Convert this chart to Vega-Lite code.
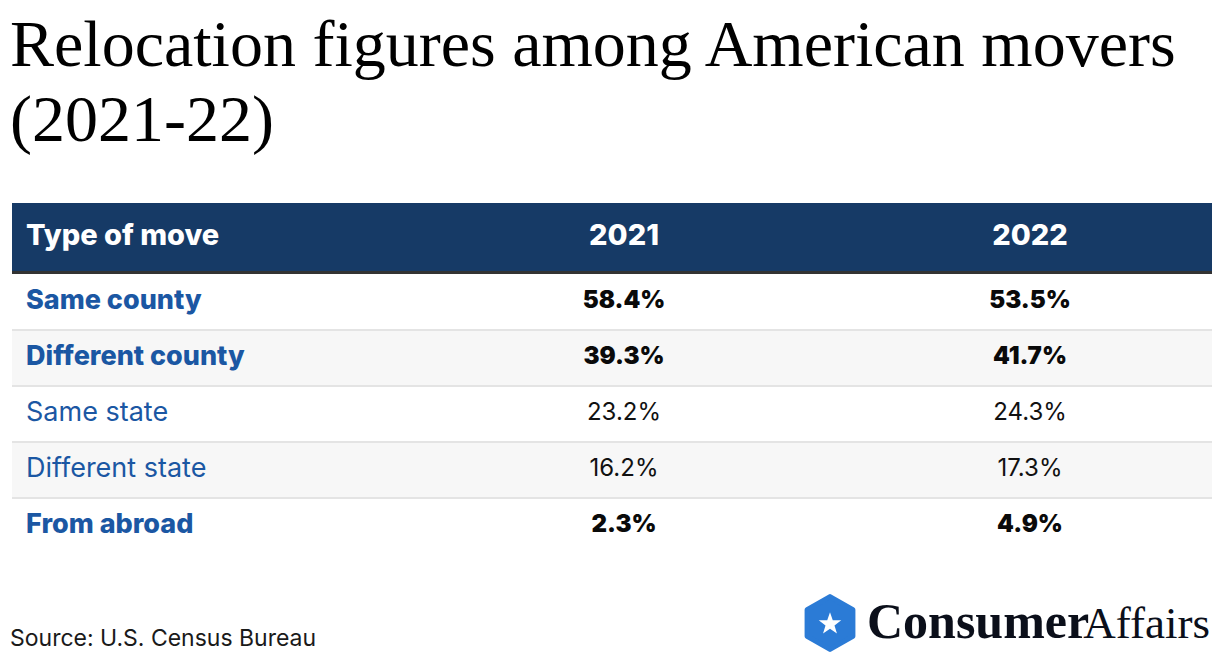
{
  "$schema": "https://vega.github.io/schema/vega-lite/v6.json",
  "padding": {"left": 10, "right": 10, "top": 13, "bottom": 0},
  "background": "#ffffff",
  "config": {"view": {"stroke": null}, "axis": {"disable": true}},
  "title": {
    "text": ["Relocation figures among American movers", "(2021-22)"],
    "font": "Liberation Serif",
    "fontSize": 66,
    "fontWeight": "normal",
    "lineHeight": 75,
    "anchor": "start",
    "color": "#000000",
    "offset": 48
  },
  "spacing": 0,
  "vconcat": [
    {
      "width": 1200,
      "height": 68,
      "data": {"values": [{"col": "Type of move"}, {"col": "2021"}, {"col": "2022"}]},
      "layer": [
        {
          "mark": {"type": "rect", "color": "#163A66"},
          "encoding": {
            "x": {"value": 0}, "x2": {"value": "width"},
            "y": {"value": 0}, "y2": {"value": "height"}
          }
        },
        {
          "transform": [{"filter": "datum.col == 'Type of move'"}],
          "mark": {"type": "text", "align": "left", "baseline": "middle", "dx": 11, "font": "Inter", "fontSize": 29, "fontWeight": 800, "color": "#ffffff"},
          "encoding": {
            "x": {"field": "col", "type": "nominal", "bandPosition": 0, "scale": {"type": "band", "domain": ["Type of move", "2021", "2022"], "range": [3, 1221], "paddingInner": 0, "paddingOuter": 0}, "axis": null},
            "y": {"value": 33},
            "text": {"field": "col"}
          }
        },
        {
          "transform": [{"filter": "datum.col != 'Type of move'"}],
          "mark": {"type": "text", "align": "center", "baseline": "middle", "font": "Inter", "fontSize": 29, "fontWeight": 800, "color": "#ffffff"},
          "encoding": {
            "x": {"field": "col", "type": "nominal", "scale": {"type": "band", "domain": ["Type of move", "2021", "2022"], "range": [3, 1221], "paddingInner": 0, "paddingOuter": 0}, "axis": null},
            "y": {"value": 33},
            "text": {"field": "col"}
          }
        }
      ]
    },
    {
      "width": 1200,
      "height": 283,
      "data": {"values": [
        {"type": "Same county", "level": "main", "2021": 0.584, "2022": 0.535},
        {"type": "Different county", "level": "main", "2021": 0.393, "2022": 0.417},
        {"type": "Same state", "level": "sub", "2021": 0.232, "2022": 0.243},
        {"type": "Different state", "level": "sub", "2021": 0.162, "2022": 0.173},
        {"type": "From abroad", "level": "main", "2021": 0.023, "2022": 0.049}
      ]},
      "transform": [{"window": [{"op": "row_number", "as": "rn"}]}],
      "encoding": {
        "y": {"field": "type", "type": "nominal", "scale": {"type": "band", "domain": ["Same county", "Different county", "Same state", "Different state", "From abroad"], "range": [3, 283], "paddingInner": 0, "paddingOuter": 0}, "axis": null}
      },
      "layer": [
        {
          "mark": {"type": "rect"},
          "encoding": {
            "x": {"value": 0}, "x2": {"value": "width"},
            "color": {"condition": {"test": "datum.rn % 2 == 0", "value": "#F7F7F7"}, "value": "#FFFFFF"}
          }
        },
        {
          "transform": [{"filter": "datum.rn > 1"}],
          "mark": {"type": "rule", "color": "#E4E4E4", "strokeWidth": 2},
          "encoding": {
            "y": {"field": "type", "type": "nominal", "bandPosition": 0},
            "x": {"value": 0}, "x2": {"value": "width"}
          }
        },
        {
          "transform": [{"filter": "datum.rn == 1"}],
          "mark": {"type": "rule", "color": "#333333", "strokeWidth": 3, "yOffset": -1.5},
          "encoding": {
            "y": {"field": "type", "type": "nominal", "bandPosition": 0},
            "x": {"value": 0}, "x2": {"value": "width"}
          }
        },
        {
          "transform": [{"filter": "datum.level == 'main'"}],
          "mark": {"type": "text", "align": "left", "baseline": "middle", "dx": 11, "dy": -1, "font": "Inter", "fontSize": 27, "fontWeight": 800, "color": "#1B57A3"},
          "encoding": {
            "x": {"datum": "Type of move", "type": "nominal", "bandPosition": 0, "scale": {"type": "band", "domain": ["Type of move", "2021", "2022"], "range": [3, 1221], "paddingInner": 0, "paddingOuter": 0}, "axis": null},
            "text": {"field": "type"}
          }
        },
        {
          "transform": [{"filter": "datum.level == 'sub'"}],
          "mark": {"type": "text", "align": "left", "baseline": "middle", "dx": 11, "dy": -1, "font": "Inter", "fontSize": 27, "fontWeight": 400, "color": "#1B57A3"},
          "encoding": {
            "x": {"datum": "Type of move", "type": "nominal", "bandPosition": 0, "scale": {"type": "band", "domain": ["Type of move", "2021", "2022"], "range": [3, 1221], "paddingInner": 0, "paddingOuter": 0}, "axis": null},
            "text": {"field": "type"}
          }
        },
        {
          "transform": [{"filter": "datum.level == 'main'"}, {"fold": ["2021", "2022"], "as": ["year", "share"]}],
          "mark": {"type": "text", "align": "center", "baseline": "middle", "dy": -1, "font": "Inter", "fontSize": 24, "fontWeight": 900, "color": "#0A0A0A"},
          "encoding": {
            "x": {"field": "year", "type": "nominal", "scale": {"type": "band", "domain": ["Type of move", "2021", "2022"], "range": [3, 1221], "paddingInner": 0, "paddingOuter": 0}, "axis": null},
            "text": {"field": "share", "type": "quantitative", "format": ".1%"}
          }
        },
        {
          "transform": [{"filter": "datum.level == 'sub'"}, {"fold": ["2021", "2022"], "as": ["year", "share"]}],
          "mark": {"type": "text", "align": "center", "baseline": "middle", "dy": -1, "font": "Inter", "fontSize": 24, "fontWeight": 400, "color": "#111111"},
          "encoding": {
            "x": {"field": "year", "type": "nominal", "scale": {"type": "band", "domain": ["Type of move", "2021", "2022"], "range": [3, 1221], "paddingInner": 0, "paddingOuter": 0}, "axis": null},
            "text": {"field": "share", "type": "quantitative", "format": ".1%"}
          }
        }
      ]
    },
    {
      "width": 1200,
      "height": 109,
      "data": {"values": [{"source": "Source: U.S. Census Bureau", "brand1": "Consumer", "brand2": "Affairs"}]},
      "layer": [
        {
          "mark": {"type": "text", "align": "left", "baseline": "alphabetic", "dx": -5, "dy": -17, "font": "Inter", "fontSize": 23, "fontWeight": 400, "color": "#1a1a1a"},
          "encoding": {
            "x": {"datum": "Type of move", "type": "nominal", "bandPosition": 0, "scale": {"type": "band", "domain": ["Type of move", "2021", "2022"], "range": [3, 1221], "paddingInner": 0, "paddingOuter": 0}, "axis": null},
            "y": {"value": "height"},
            "text": {"field": "source"}
          }
        },
        {
          "mark": {"type": "point", "filled": true, "color": "#2B7BD6", "stroke": "#2B7BD6", "strokeWidth": 5, "strokeJoin": "round", "opacity": 1, "xOffset": 3, "yOffset": -40,
            "shape": "M0,-1L0.866,-0.5L0.866,0.5L0,1L-0.866,0.5L-0.866,-0.5Z", "size": 2800},
          "encoding": {
            "x": {"datum": "2022", "type": "nominal", "bandPosition": 0, "scale": {"type": "band", "domain": ["Type of move", "2021", "2022"], "range": [3, 1221], "paddingInner": 0, "paddingOuter": 0}, "axis": null},
            "y": {"value": "height"}
          }
        },
        {
          "mark": {"type": "point", "filled": true, "color": "#ffffff", "opacity": 1, "xOffset": 3, "yOffset": -39,
            "shape": "M0,-1L0.235,-0.324L0.951,-0.309L0.380,0.124L0.588,0.809L0,0.4L-0.588,0.809L-0.380,0.124L-0.951,-0.309L-0.235,-0.324Z", "size": 560},
          "encoding": {
            "x": {"datum": "2022", "type": "nominal", "bandPosition": 0, "scale": {"type": "band", "domain": ["Type of move", "2021", "2022"], "range": [3, 1221], "paddingInner": 0, "paddingOuter": 0}, "axis": null},
            "y": {"value": "height"}
          }
        },
        {
          "mark": {"type": "text", "align": "left", "baseline": "alphabetic", "dx": 40, "dy": -25, "font": "Liberation Serif", "fontSize": 50, "fontWeight": 900, "color": "#0B0F1A"},
          "encoding": {
            "x": {"datum": "2022", "type": "nominal", "bandPosition": 0, "scale": {"type": "band", "domain": ["Type of move", "2021", "2022"], "range": [3, 1221], "paddingInner": 0, "paddingOuter": 0}, "axis": null},
            "y": {"value": "height"},
            "text": {"field": "brand1"}
          }
        },
        {
          "mark": {"type": "text", "align": "right", "baseline": "alphabetic", "dx": -23, "dy": -25, "font": "Liberation Serif", "fontSize": 45, "fontWeight": 400, "color": "#0B0F1A"},
          "encoding": {
            "x": {"datum": "2022", "type": "nominal", "bandPosition": 1, "scale": {"type": "band", "domain": ["Type of move", "2021", "2022"], "range": [3, 1221], "paddingInner": 0, "paddingOuter": 0}, "axis": null},
            "y": {"value": "height"},
            "text": {"field": "brand2"}
          }
        }
      ]
    }
  ]
}
